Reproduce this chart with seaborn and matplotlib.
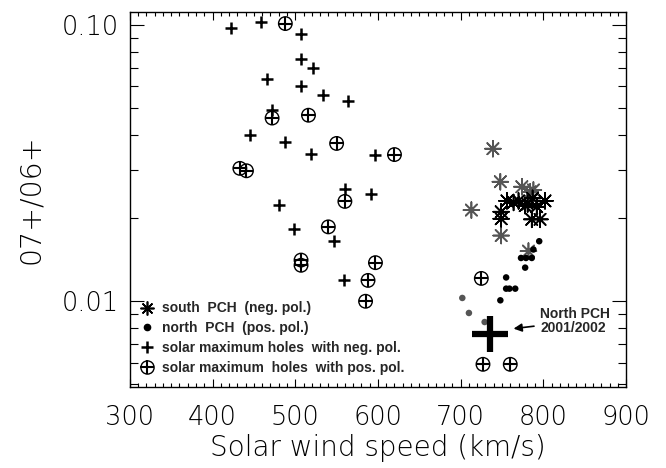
import numpy as np
import pandas as pd
import matplotlib
matplotlib.use("Agg")
import matplotlib.pyplot as plt
import seaborn as sns
from matplotlib.lines import Line2D
from matplotlib.ticker import MultipleLocator, LogLocator, FixedLocator, NullFormatter

# ---------------- data ----------------
neg_speed = [422, 459, 507, 507, 521, 466, 507, 533, 472, 564,
             445, 488, 519, 597, 560, 591, 480, 498, 547, 559]
neg_ratio = [0.098, 0.1026, 0.0933, 0.0755, 0.0700, 0.0637, 0.0603, 0.0558, 0.0495, 0.0532,
             0.0400, 0.0379, 0.0341, 0.0340, 0.0256, 0.0245, 0.0223, 0.0183, 0.0165, 0.0119]

pos_speed = [488, 472, 516, 550, 433, 441, 620, 560, 540, 507, 507,
             597, 588, 585, 725, 727, 760]
pos_ratio = [0.1014, 0.0461, 0.0472, 0.0373, 0.0303, 0.0297, 0.0340, 0.0230, 0.0186, 0.0141, 0.0135,
             0.0138, 0.0119, 0.0100, 0.0121, 0.00591, 0.00591]

south_speed = [739, 748, 713, 774, 784, 788, 749, 782,
               756, 770, 778, 792, 802, 787, 749, 749, 786, 796, 781, 764]
south_ratio = [0.0357, 0.0271, 0.0214, 0.0260, 0.0249, 0.0253, 0.0173, 0.0152,
               0.0231, 0.0231, 0.0222, 0.0220, 0.0231, 0.0236, 0.0211, 0.0199, 0.0198, 0.0198, 0.0225, 0.0228]
south_shade = ["gray"] * 8 + ["black"] * 12

north_speed = [795, 773, 779, 786, 778, 788, 755, 755, 759, 766, 748, 702, 710, 729]
north_ratio = [0.0165, 0.01435, 0.01435, 0.01435, 0.01324, 0.0154, 0.0122,
               0.01111, 0.01111, 0.01111, 0.01008, 0.01028, 0.00907, 0.00841]
north_shade = ["black"] * 11 + ["gray"] * 3

npch_speed = [735]
npch_ratio = [0.00764]

x_ticks = [300, 400, 500, 600, 700, 800, 900]
y_ticks = [0.01, 0.10]

# ---------------- plotting ----------------
sns.set_theme(style="ticks")
plt.rcParams["font.family"] = ["DejaVu Sans"]
plt.rcParams["font.weight"] = "light"

fig = plt.figure(figsize=(6.66, 4.68), dpi=100)
ax = fig.add_axes([0.195, 0.173, 0.745, 0.801])

palette = {"gray": "#555555", "black": "#000000"}
ast = (8, 2, 0)

south = pd.DataFrame({"v": south_speed, "r": south_ratio, "c": south_shade})
north = pd.DataFrame({"v": north_speed, "r": north_ratio, "c": north_shade})
neg = pd.DataFrame({"v": neg_speed, "r": neg_ratio})
pos = pd.DataFrame({"v": pos_speed, "r": pos_ratio})
npch = pd.DataFrame({"v": npch_speed, "r": npch_ratio})

sns.scatterplot(data=south, x="v", y="r", hue="c", palette=palette, marker=ast,
                s=130, linewidth=1.2, legend=False, ax=ax, zorder=3)
sns.scatterplot(data=north, x="v", y="r", hue="c", palette=palette, marker="o",
                s=22, linewidth=0, legend=False, ax=ax, zorder=3)
sns.scatterplot(data=neg, x="v", y="r", marker="+", color="black",
                s=80, linewidth=1.8, legend=False, ax=ax, zorder=3)
sns.scatterplot(data=pos, x="v", y="r", marker="o", facecolors="none", edgecolor="black",
                s=95, linewidth=1.0, legend=False, ax=ax, zorder=3)
sns.scatterplot(data=pos, x="v", y="r", marker="+", color="black",
                s=95, linewidth=1.5, legend=False, ax=ax, zorder=3)
sns.scatterplot(data=npch, x="v", y="r", marker="+", color="black",
                s=650, linewidth=4.5, legend=False, ax=ax, zorder=4)

ax.annotate("North PCH\n2001/2002", xy=(764, 0.00796), xytext=(796, 0.00846),
            ha="left", va="center", fontsize=10, fontweight="bold",
            family=["Liberation Sans", "DejaVu Sans"], linespacing=1.0,
            arrowprops=dict(arrowstyle="-|>", color="black", lw=1.2,
                            shrinkA=2, shrinkB=0, mutation_scale=12))

ax.set_yscale("log")
ax.set_xlim(300, 900)
ax.set_ylim(0.00489, 0.1115)
ax.xaxis.set_major_locator(FixedLocator(x_ticks))
ax.xaxis.set_minor_locator(MultipleLocator(10))
ax.yaxis.set_major_locator(FixedLocator(y_ticks))
ax.yaxis.set_minor_locator(LogLocator(base=10, subs=np.arange(2, 10)))
ax.yaxis.set_minor_formatter(NullFormatter())
ax.set_yticklabels([f"{t:.2f}" for t in y_ticks], fontweight="light")
ax.set_xticklabels([str(t) for t in x_ticks], fontweight="light")

for sp in ax.spines.values():
    sp.set_visible(True)
    sp.set_linewidth(1.0)
    sp.set_color("black")

ax.tick_params(axis="both", which="both", direction="in", top=True, right=True,
               colors="black", width=0.8)
ax.tick_params(axis="x", which="major", length=6, pad=13, labelsize=18.5)
ax.tick_params(axis="x", which="minor", length=3)
ax.tick_params(axis="y", which="major", length=10, pad=8, labelsize=18.5)
ax.tick_params(axis="y", which="minor", length=6)

ax.set_xlabel("Solar wind speed (km/s)", fontsize=20, labelpad=3, color="black", fontweight="light")
ax.set_ylabel("07+/06+", fontsize=20.5, labelpad=12, color="black", fontweight="light")
ax.grid(False)

# legend
h_south = Line2D([], [], ls="none", marker=ast, color="black", markersize=10, markeredgewidth=1.2)
h_north = Line2D([], [], ls="none", marker="o", color="black", markersize=4.5)
h_neg = Line2D([], [], ls="none", marker="+", color="black", markersize=9, markeredgewidth=1.8)
h_pos_c = Line2D([], [], ls="none", marker="o", markerfacecolor="none", markeredgecolor="black",
                 markersize=9.5, markeredgewidth=1.0)
h_pos_p = Line2D([], [], ls="none", marker="+", color="black", markersize=9.5, markeredgewidth=1.5)
leg = ax.legend([h_south, h_north, h_neg, (h_pos_c, h_pos_p)],
                ["south  PCH  (neg. pol.)", "north  PCH  (pos. pol.)",
                 "solar maximum holes  with neg. pol.", "solar maximum  holes  with pos. pol."],
                loc="lower left", bbox_to_anchor=(0.0, 0.01), frameon=False,
                handlelength=1.2, handletextpad=0.5, labelspacing=0.42, borderaxespad=0.2,
                prop={"family": ["Liberation Sans", "DejaVu Sans"], "weight": "bold", "size": 10})

fig.savefig("out.png", dpi=100, facecolor="white")
